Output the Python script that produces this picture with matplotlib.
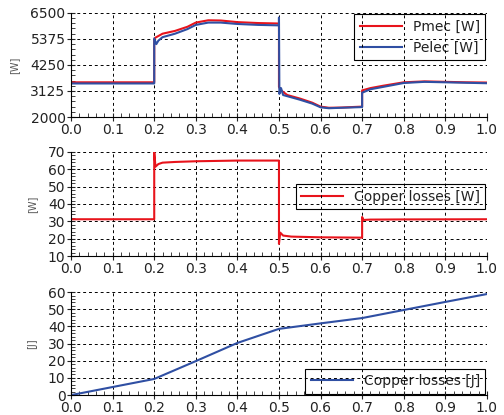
"Power and copper losses of a motor drive"
import matplotlib.pyplot as plt
from matplotlib.ticker import AutoMinorLocator

# mechanical / electrical power [W]
t_pmec = [0.0, 0.2, 0.2, 0.202, 0.21, 0.22, 0.25, 0.28, 0.3, 0.33, 0.36, 0.4, 0.45, 0.5,
          0.5, 0.505, 0.52, 0.55, 0.58, 0.6, 0.62, 0.65, 0.7,
          0.7, 0.72, 0.75, 0.8, 0.85, 0.9, 0.95, 1.0]
pmec = [3500, 3500, 5300, 5420, 5500, 5600, 5720, 5900, 6080, 6180, 6170, 6100, 6060, 6040,
        3300, 3150, 2950, 2800, 2620, 2450, 2400, 2410, 2450,
        3150, 3250, 3350, 3500, 3540, 3520, 3500, 3490]

t_pelec = [0.0, 0.2, 0.2, 0.205, 0.21, 0.22, 0.25, 0.28, 0.3, 0.33, 0.36, 0.4, 0.45, 0.5,
           0.5, 0.501, 0.505, 0.51, 0.52, 0.55, 0.58, 0.6, 0.62, 0.65, 0.7,
           0.7, 0.72, 0.75, 0.8, 0.85, 0.9, 0.95, 1.0]
pelec = [3450, 3450, 5400, 5150, 5300, 5450, 5600, 5800, 5980, 6080, 6080, 6020, 5980, 5960,
         6300, 3000, 3250, 2950, 2900, 2750, 2580, 2420, 2380, 2400, 2430,
         3050, 3200, 3300, 3470, 3520, 3500, 3480, 3460]

# copper losses [W]
t_loss = [0.0, 0.2, 0.2, 0.203, 0.21, 0.22, 0.25, 0.3, 0.4, 0.5,
          0.5, 0.503, 0.51, 0.53, 0.6, 0.7,
          0.7, 0.703, 0.72, 0.8, 1.0]
loss_w = [31.2, 31.2, 70, 61.5, 63, 63.8, 64.2, 64.6, 65, 65,
          17, 23.5, 21.8, 21.2, 20.8, 20.6,
          32.5, 30.8, 31.0, 31.1, 31.2]

# copper losses [J]
t_energy = [0.0, 0.1, 0.2, 0.3, 0.4, 0.5, 0.6, 0.7, 0.8, 0.9, 1.0]
loss_j = [0.0, 4.7, 9.4, 19.8, 30.4, 38.6, 41.8, 44.9, 49.6, 54.3, 58.9]

xticks = [i / 10 for i in range(11)]
yticks_p = [2000, 3125, 4250, 5375, 6500]
yticks_w = [10, 20, 30, 40, 50, 60, 70]
yticks_j = [0, 10, 20, 30, 40, 50, 60]

RED = "#e8141c"
BLUE = "#2f4fa3"
TXT = "#222222"

plt.rcParams["font.family"] = "DejaVu Sans"
fig = plt.figure(figsize=(5.04, 4.15), dpi=100)

boxes = [[0.141, 0.718, 0.825, 0.251],
         [0.141, 0.383, 0.825, 0.251],
         [0.141, 0.048, 0.825, 0.248]]
axes = [fig.add_axes(b) for b in boxes]

ax1, ax2, ax3 = axes
ax1.plot(t_pmec, pmec, color=RED, lw=1.5, label="Pmec [W]")
ax1.plot(t_pelec, pelec, color=BLUE, lw=1.5, label="Pelec [W]")
ax1.set_ylim(2000, 6500)
ax1.set_yticks(yticks_p)
ax1.set_ylabel("[W]")

ax2.plot(t_loss, loss_w, color=RED, lw=1.5, label="Copper losses [W]")
ax2.set_ylim(10, 70)
ax2.set_yticks(yticks_w)
ax2.set_ylabel("[W]")

ax3.plot(t_energy, loss_j, color=BLUE, lw=1.5, label="Copper losses [J]")
ax3.set_ylim(0, 60)
ax3.set_yticks(yticks_j)
ax3.set_ylabel("[J]")

legend_locs = [("upper right", None), ("center right", (1.0, 0.57)), ("lower right", None)]
for ax, (loc, anchor) in zip(axes, legend_locs):
    ax.set_xlim(0, 1)
    ax.set_xticks(xticks)
    ax.set_xticklabels(["%.1f" % x for x in xticks])
    ax.xaxis.set_minor_locator(AutoMinorLocator(5))
    ax.yaxis.set_minor_locator(AutoMinorLocator(5))
    ax.grid(True, which="major", color="black", linestyle=(0, (3, 3)), linewidth=0.7)
    ax.tick_params(which="major", direction="inout", length=6, labelsize=10,
                   colors=TXT, pad=1)
    ax.tick_params(which="minor", direction="in", length=3, colors=TXT)
    ax.spines["top"].set_visible(False)
    ax.spines["right"].set_visible(False)
    ax.yaxis.label.set_fontsize(7)
    ax.yaxis.label.set_color("#555555")
    ax.yaxis.labelpad = 8
    if anchor is None:
        leg = ax.legend(loc=loc, fontsize=10, fancybox=False, framealpha=1,
                        edgecolor="black", borderaxespad=0.1, handlelength=3)
    else:
        leg = ax.legend(loc=loc, bbox_to_anchor=anchor, fontsize=10, fancybox=False,
                        framealpha=1, edgecolor="black", borderaxespad=0.1,
                        handlelength=3)
    leg.get_frame().set_linewidth(0.8)
    for txt in leg.get_texts():
        txt.set_color(TXT)
    leg.set_zorder(1)

fig.savefig("out.png", dpi=100)
